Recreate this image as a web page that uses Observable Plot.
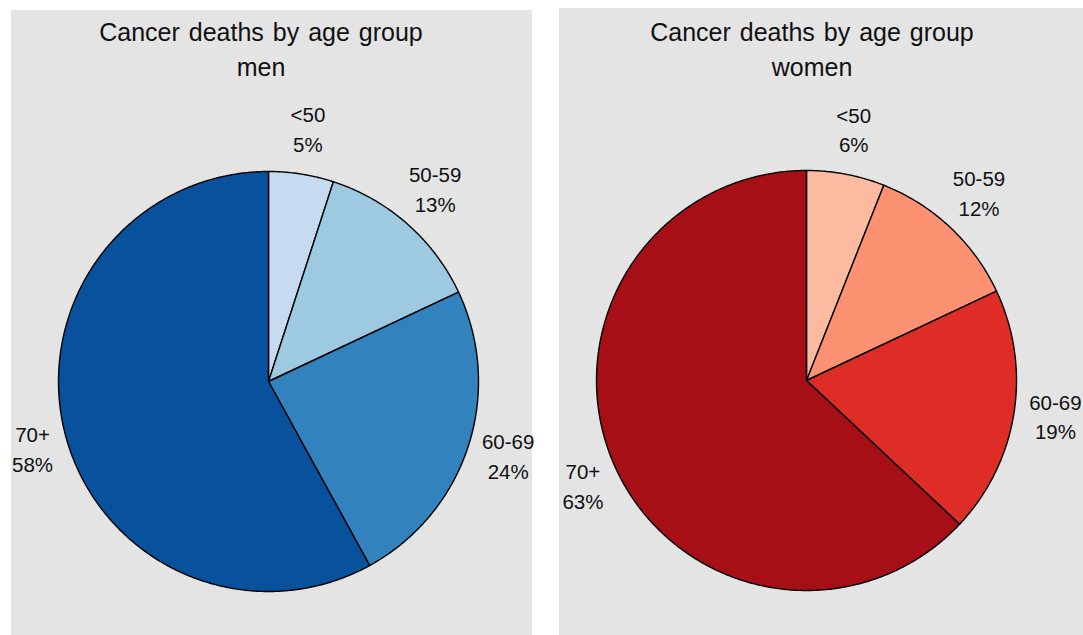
<!DOCTYPE html>
<html>
<head>
<meta charset="utf-8">
<script src="https://cdn.jsdelivr.net/npm/d3@7"></script>
<script src="https://cdn.jsdelivr.net/npm/@observablehq/plot@0.6"></script>
<style>
  html, body { margin: 0; padding: 0; background: #ffffff; }
  body { width: 1083px; height: 635px; position: relative; overflow: hidden; font-family: "Liberation Sans", Arial, sans-serif; }
  .panel { position: absolute; background: #e4e4e4; overflow: visible; }
  .title { font-size: 25px; line-height: 35px; color: #111; text-align: center; word-spacing: 2px; box-sizing: border-box; }
  .panel svg { display: block; overflow: visible; }
</style>
</head>
<body>
<div id="men" class="panel" style="left:11px; top:10px; width:521px; height:625px;"></div>
<div id="women" class="panel" style="left:559px; top:8px; width:524px; height:627px;"></div>
<script>
// ---- data ----
const categories = ["<50", "50-59", "60-69", "70+"];
const menValues = [5, 13, 24, 58];
const womenValues = [6, 12, 19, 63];
const titleMain = "Cancer deaths by age group";
const menSubtitle = "men";
const womenSubtitle = "women";
const menColors = ["#c6dbef", "#9ecae1", "#3182bd", "#08519c"];
const womenColors = ["#fcbba1", "#fc9272", "#de2d26", "#a50f15"];

function buildSlices(values) {
  const total = d3.sum(values);
  const pts = [];
  const labels = [];
  let acc = 0;
  values.forEach((v, i) => {
    const a0 = acc / total * 2 * Math.PI;
    acc += v;
    const a1 = acc / total * 2 * Math.PI;
    const cat = categories[i];
    pts.push({cat, x: 0, y: 0});
    const n = Math.max(2, Math.ceil((a1 - a0) / (Math.PI / 360)));
    for (let k = 0; k <= n; k++) {
      const a = a0 + (a1 - a0) * k / n;
      pts.push({cat, x: Math.sin(a), y: Math.cos(a)});
    }
    const am = (a0 + a1) / 2;
    const sx = Math.sin(am);
    const left = sx < 0;
    // labels on the left side sit a little closer to the pie and lower
    const rx = left ? 1.16 : 1.2;
    const yShift = left ? -0.04 : 0;
    labels.push({cat, x: rx * sx, y: 1.2 * Math.cos(am) + yShift, text: cat + "\n" + Math.round(v / total * 100) + "%"});
  });
  return {pts, labels};
}

function drawPanel(el, sub, values, colors, opts) {
  const title = document.createElement("div");
  title.className = "title";
  title.style.width = opts.titleWidth + "px";
  title.style.height = opts.titleHeight + "px";
  title.style.paddingTop = opts.titlePad + "px";
  title.innerHTML = titleMain + "<br>" + sub;
  el.appendChild(title);

  const {pts, labels} = buildSlices(values);
  const r = 210;
  const chart = Plot.plot({
    width: opts.width,
    height: opts.height,
    margin: 0,
    style: {background: "transparent", overflow: "visible"},
    x: {type: "linear", domain: [-1, 1], range: [opts.cx - r, opts.cx + r], axis: null},
    y: {type: "linear", domain: [-1, 1], range: [opts.cy + r, opts.cy - r], axis: null},
    color: {type: "ordinal", domain: categories, range: colors},
    marks: [
      Plot.line(pts, {x: "x", y: "y", z: "cat", fill: "cat", stroke: "#000", strokeWidth: 1.4, curve: "linear-closed", strokeLinejoin: "round"}),
      Plot.text(labels, {x: "x", y: "y", dy: -5, text: "text", fontSize: 20.5, lineHeight: 1.46, fill: "#111", fontFamily: "Liberation Sans, Arial, sans-serif", textAnchor: "middle"})
    ]
  });
  el.appendChild(chart);
}

drawPanel(document.getElementById("men"), menSubtitle, menValues, menColors,
  {titleWidth: 500, titleHeight: 80, titlePad: 5, width: 521, height: 545, cx: 257, cy: 291});
drawPanel(document.getElementById("women"), womenSubtitle, womenValues, womenColors,
  {titleWidth: 506, titleHeight: 80, titlePad: 7, width: 524, height: 547, cx: 247, cy: 292});
</script>
</body>
</html>
